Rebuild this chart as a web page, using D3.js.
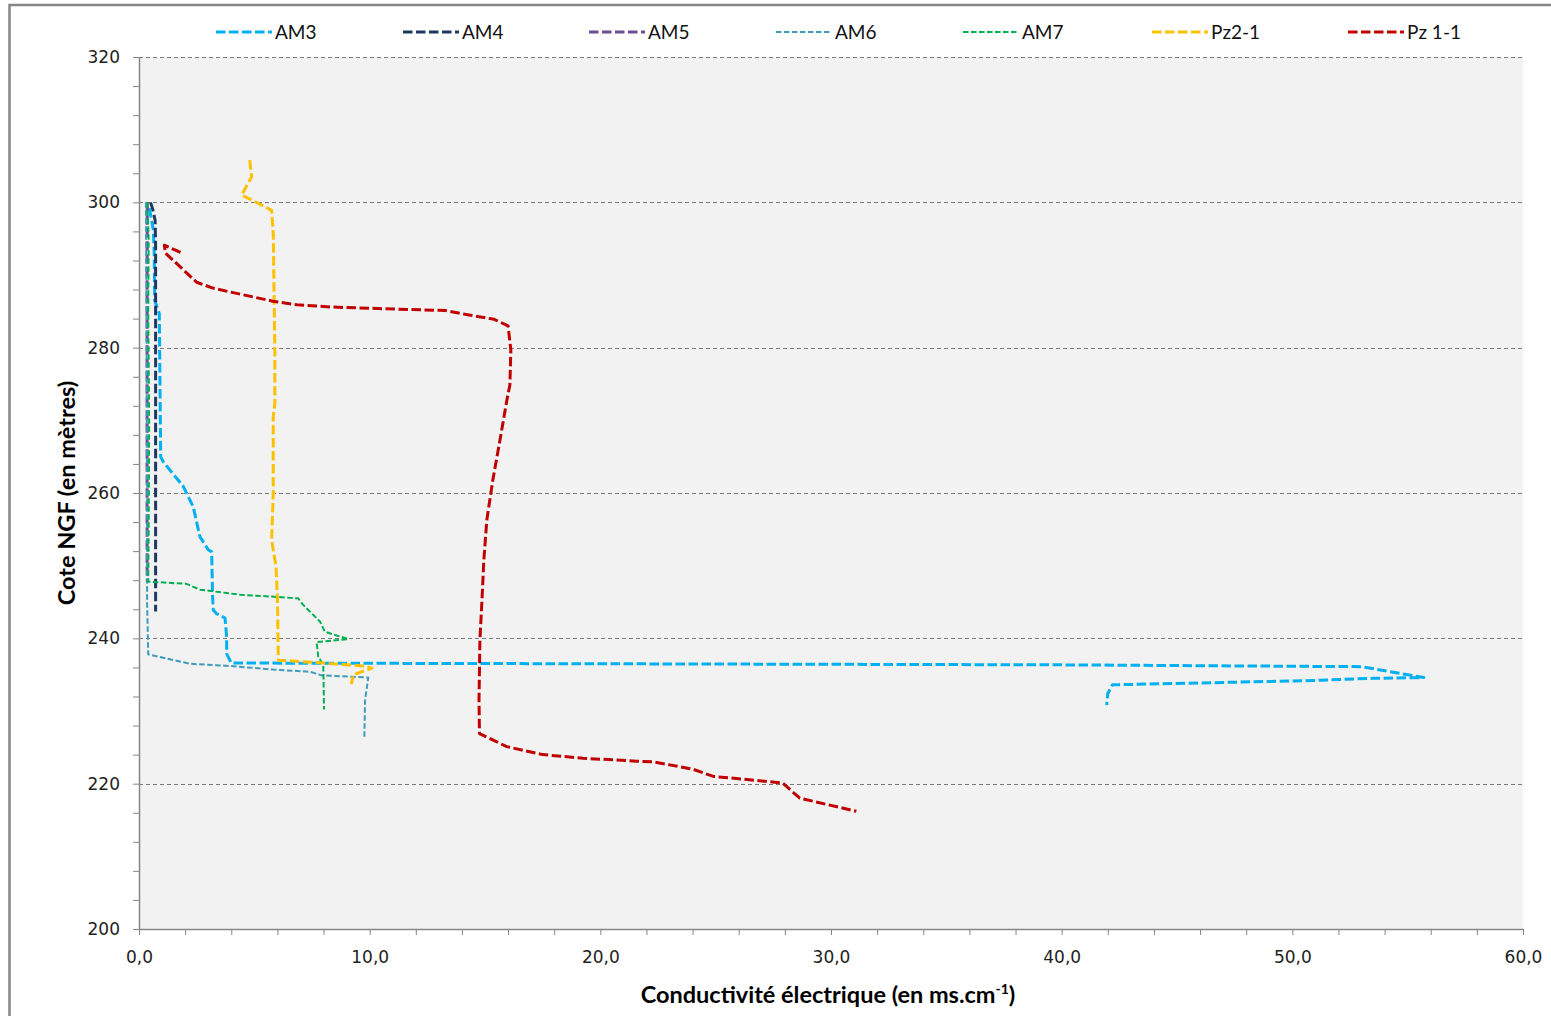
<!DOCTYPE html>
<html>
<head>
<meta charset="utf-8">
<script src="https://cdn.jsdelivr.net/npm/d3@7"></script>
<style>
  body { margin: 0; background: #ffffff; }
  svg { display: block; }
</style>
</head>
<body>
<svg id="chart" width="1551" height="1016"></svg>
<script>
// Conductivity profiles: [conductivité (ms/cm), cote NGF (m)]
const am3 = [
  [0.45, 299.2], [0.62, 296.2], [0.66, 293.0], [0.68, 286.5], [0.88, 284.7],
  [0.91, 275.0], [0.94, 265.0], [1.05, 264.3], [1.92, 260.9], [2.35, 258.1],
  [2.64, 254.0], [3.0, 252.2], [3.15, 251.9], [3.19, 245.7], [3.22, 243.9],
  [3.36, 243.4], [3.73, 242.8], [3.8, 240.2], [3.8, 237.9], [4.0, 236.6],
  [20.0, 236.5], [40.0, 236.35], [53.0, 236.1], [55.7, 234.6], [53.5, 234.5],
  [50.9, 234.2], [46.6, 233.9], [42.2, 233.6], [42.0, 232.4], [41.95, 230.8]
];
const am4 = [
  [0.5, 300.0], [0.6, 299.0], [0.7, 297.5], [0.72, 294.0], [0.72, 275.0],
  [0.72, 260.0], [0.72, 243.7]
];
const am5 = [
  [0.36, 300.0], [0.35, 290.0], [0.35, 270.0], [0.35, 250.0], [0.36, 247.8]
];
const am6 = [
  [0.3, 300.0], [0.33, 280.0], [0.35, 260.0], [0.35, 245.0], [0.4, 237.8],
  [2.21, 236.5], [3.94, 236.2], [5.82, 235.7], [7.41, 235.4], [7.92, 234.9],
  [9.94, 234.6], [9.8, 231.5], [9.77, 226.4]
];
const am7 = [
  [0.36, 300.0], [0.42, 295.0], [0.4, 285.0], [0.44, 270.0], [0.42, 255.0],
  [0.4, 247.8], [2.06, 247.5], [2.64, 246.7], [4.38, 246.0], [5.97, 245.7],
  [6.9, 245.5], [7.12, 244.6], [7.85, 242.3], [8.06, 240.9], [9.07, 239.9],
  [7.7, 239.5], [7.77, 237.5], [7.99, 236.3], [8.02, 230.2]
];
const pz21 = [
  [4.8, 305.8], [4.88, 303.5], [4.45, 301.0], [4.96, 300.2], [5.75, 298.9],
  [5.82, 295.7], [5.89, 279.7], [5.89, 272.4], [5.82, 270.5], [5.82, 260.0],
  [5.75, 253.5], [5.94, 249.9], [6.0, 245.7], [6.04, 237.0], [8.0, 236.6],
  [9.7, 236.2], [10.1, 235.9], [9.3, 235.0], [9.2, 233.7]
];
const pz11 = [
  [1.8, 293.1], [1.1, 294.1], [1.15, 293.0], [2.5, 289.0], [3.2, 288.2],
  [3.9, 287.7], [5.8, 286.4], [6.85, 285.9], [8.3, 285.6], [11.2, 285.3],
  [13.3, 285.1], [14.3, 284.5], [15.4, 283.9], [16.0, 283.0], [16.12, 279.7],
  [16.08, 274.9], [15.95, 272.8], [15.65, 267.3], [15.34, 261.8], [15.08, 256.3],
  [14.95, 250.8], [14.87, 245.3], [14.78, 239.8], [14.74, 231.5], [14.76, 226.9],
  [15.94, 225.1], [17.5, 224.0], [19.25, 223.5], [21.57, 223.1], [22.3, 223.0],
  [24.0, 222.0], [24.9, 221.0], [27.9, 220.1], [28.65, 218.0], [31.1, 216.2]
];

const seriesNames = ["AM3", "AM4", "AM5", "AM6", "AM7", "Pz2-1", "Pz 1-1"];
const seriesData = [am3, am4, am5, am6, am7, pz21, pz11];

// Axis ticks
const xMajorTicks = [0, 10, 20, 30, 40, 50, 60];
const yMajorTicks = [200, 220, 240, 260, 280, 300, 320];

// Stroke styles per series
const seriesStyle = [
  { color: "#00b0f0", width: 3, dash: "9.5,3.5" },
  { color: "#1f3864", width: 3, dash: "9.5,3.5" },
  { color: "#6a4f91", width: 3, dash: "9.5,3.5" },
  { color: "#3f9bbb", width: 2, dash: "5.5,2.5" },
  { color: "#00b050", width: 2, dash: "5.5,2.5" },
  { color: "#ffc000", width: 3, dash: "9.5,3.5" },
  { color: "#c00000", width: 3, dash: "9.5,3.5" }
];

const svg = d3.select("#chart");
const plot = { left: 139, right: 1523, top: 57, bottom: 929 };
const axisGrey = "#868686";
const tickFont = "'DejaVu Sans', sans-serif";
const textFont = "Lato, 'Open Sans', sans-serif";

const x = d3.scaleLinear().domain([0, 60]).range([plot.left, plot.right]);
const y = d3.scaleLinear().domain([200, 320]).range([plot.bottom, plot.top]);

// Chart frame
svg.append("path")
  .attr("d", `M9.5,1016 L9.5,5 L1551,5`)
  .attr("fill", "none")
  .attr("stroke", "#878787")
  .attr("stroke-width", 2.5);

// Plot background
svg.append("rect")
  .attr("x", plot.left).attr("y", plot.top)
  .attr("width", plot.right - plot.left)
  .attr("height", plot.bottom - plot.top)
  .attr("fill", "#f2f2f2");

// Horizontal gridlines
svg.append("g")
  .selectAll("line")
  .data(yMajorTicks.filter(v => v > 200))
  .join("line")
  .attr("x1", plot.left).attr("x2", plot.right)
  .attr("y1", d => Math.round(y(d)) + 0.5).attr("y2", d => Math.round(y(d)) + 0.5)
  .attr("stroke", "#7a7a7a")
  .attr("stroke-width", 1)
  .attr("stroke-dasharray", "4,3");

const fmtX = v => d3.format(".1f")(v).replace(".", ",");

// X axis
const xAxis = svg.append("g")
  .attr("transform", `translate(0,${plot.bottom})`)
  .call(d3.axisBottom(x)
    .tickValues(d3.range(0, 61, 2))
    .tickSize(6)
    .tickSizeOuter(0)
    .tickPadding(16)
    .tickFormat(d => xMajorTicks.includes(d) ? fmtX(d) : ""));
xAxis.select(".domain").attr("stroke", axisGrey).attr("stroke-width", 1.5);
xAxis.selectAll(".tick line").attr("stroke", axisGrey);
xAxis.selectAll(".tick text")
  .attr("font-family", tickFont).attr("font-size", 17).attr("fill", "#222");

// Y axis
const yAxis = svg.append("g")
  .attr("transform", `translate(${plot.left},0)`)
  .call(d3.axisLeft(y)
    .tickValues(d3.range(200, 321, 4))
    .tickSize(6)
    .tickSizeOuter(0)
    .tickPadding(13)
    .tickFormat(d => yMajorTicks.includes(d) ? String(d) : ""));
yAxis.select(".domain").attr("stroke", axisGrey).attr("stroke-width", 1.5);
yAxis.selectAll(".tick line").attr("stroke", axisGrey);
yAxis.selectAll(".tick text")
  .attr("font-family", tickFont).attr("font-size", 17).attr("fill", "#222");

// Axis titles
svg.append("text")
  .attr("transform", `translate(75,${(plot.top + plot.bottom) / 2}) rotate(-90)`)
  .attr("text-anchor", "middle")
  .attr("font-family", textFont).attr("font-weight", "bold").attr("font-size", 23.5)
  .attr("fill", "#000")
  .text("Cote NGF (en mètres)");

const xTitle = svg.append("text")
  .attr("x", (plot.left + plot.right) / 2 - 3)
  .attr("y", 1003)
  .attr("text-anchor", "middle")
  .attr("font-family", textFont).attr("font-weight", "bold").attr("font-size", 23.5)
  .attr("fill", "#000");
xTitle.append("tspan").text("Conductivité électrique (en ms.cm");
xTitle.append("tspan").attr("font-size", 14).attr("dy", -9).text("-1");
xTitle.append("tspan").attr("dy", 9).text(")");

// Profiles
const line = d3.line().x(d => x(d[0])).y(d => y(d[1]));
svg.append("g")
  .selectAll("path")
  .data(seriesData)
  .join("path")
  .attr("d", line)
  .attr("fill", "none")
  .attr("stroke", (d, i) => seriesStyle[i].color)
  .attr("stroke-width", (d, i) => seriesStyle[i].width)
  .attr("stroke-dasharray", (d, i) => seriesStyle[i].dash)
  .attr("stroke-linejoin", "round");

// Legend
const legendX = [216, 403, 589, 776, 963, 1152, 1348];
const legend = svg.append("g")
  .selectAll("g")
  .data(seriesNames)
  .join("g")
  .attr("transform", (d, i) => `translate(${legendX[i]},32)`);
legend.append("line")
  .attr("x1", 0).attr("x2", 56)
  .attr("stroke", (d, i) => seriesStyle[i].color)
  .attr("stroke-width", (d, i) => seriesStyle[i].width)
  .attr("stroke-dasharray", (d, i) => seriesStyle[i].dash);
legend.append("text")
  .attr("x", 59).attr("dy", "0.35em")
  .attr("font-family", textFont).attr("font-size", 19).attr("fill", "#111")
  .text(d => d);
</script>
</body>
</html>
